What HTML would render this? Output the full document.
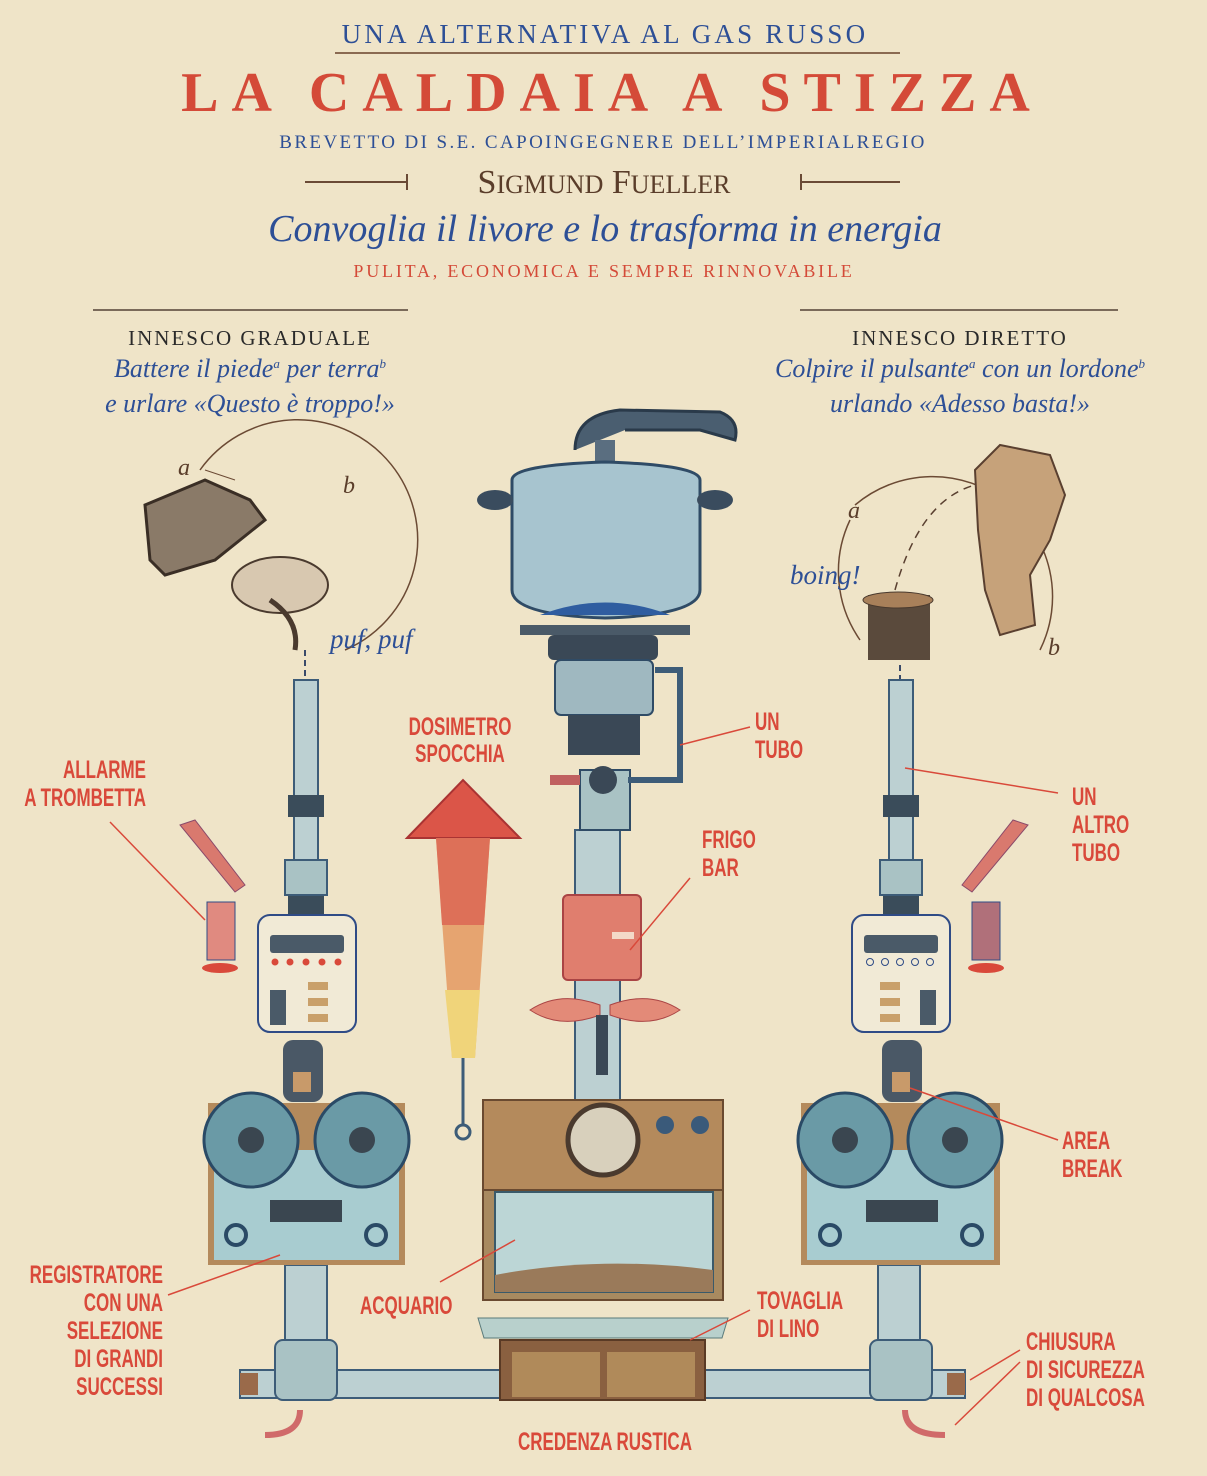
<!DOCTYPE html>
<html><head><meta charset="utf-8"><style>
html,body{margin:0;padding:0;background:#efe4c8;}
svg{display:block}
.lab{font-family:"Liberation Sans",sans-serif;font-weight:bold;fill:#d9493a;font-size:25px}
.ser{font-family:"Liberation Serif",serif}
</style></head><body>
<svg width="1207" height="1476" viewBox="0 0 1207 1476" xmlns="http://www.w3.org/2000/svg">
<rect width="1207" height="1476" fill="#efe4c8"/>
<g class="ser" text-anchor="middle">
<text x="605" y="43" font-size="27" fill="#2d4f96" letter-spacing="3.2">UNA ALTERNATIVA AL GAS RUSSO</text>
<line x1="335" y1="53" x2="900" y2="53" stroke="#8a6a52" stroke-width="2"/>
<text x="612" y="111" font-size="56" fill="#d44a38" letter-spacing="13" font-weight="bold">LA CALDAIA A STIZZA</text>
<text x="603" y="148" font-size="19" fill="#2d4f96" letter-spacing="2.4">BREVETTO DI S.E. CAPOINGEGNERE DELL’IMPERIALREGIO</text>
<text x="604" y="193" font-size="34" fill="#5a3d2a">S<tspan font-size="26">IGMUND</tspan> F<tspan font-size="26">UELLER</tspan></text>
<line x1="305" y1="182" x2="408" y2="182" stroke="#6a4a36" stroke-width="2"/><line x1="407" y1="174" x2="407" y2="190" stroke="#6a4a36" stroke-width="2"/>
<line x1="800" y1="182" x2="900" y2="182" stroke="#6a4a36" stroke-width="2"/><line x1="801" y1="174" x2="801" y2="190" stroke="#6a4a36" stroke-width="2"/>
<text x="605" y="241" font-size="38" fill="#2d4f96" font-style="italic">Convoglia il livore e lo trasforma in energia</text>
<text x="604" y="277" font-size="18" fill="#d44a38" letter-spacing="2.8">PULITA, ECONOMICA E SEMPRE RINNOVABILE</text>
<line x1="93" y1="310" x2="408" y2="310" stroke="#7a6a5a" stroke-width="2"/>
<line x1="800" y1="310" x2="1118" y2="310" stroke="#7a6a5a" stroke-width="2"/>
<text x="250" y="345" font-size="21" fill="#2a2a2a" letter-spacing="2">INNESCO GRADUALE</text>
<text x="250" y="377" font-size="26" fill="#2d4f96" font-style="italic">Battere il piede<tspan font-size="13" dy="-9">a</tspan><tspan dy="9"> per terra</tspan><tspan font-size="13" dy="-9">b</tspan></text>
<text x="250" y="412" font-size="26" fill="#2d4f96" font-style="italic">e urlare «Questo è troppo!»</text>
<text x="960" y="345" font-size="21" fill="#2a2a2a" letter-spacing="2">INNESCO DIRETTO</text>
<text x="960" y="377" font-size="26" fill="#2d4f96" font-style="italic">Colpire il pulsante<tspan font-size="13" dy="-9">a</tspan><tspan dy="9"> con un lordone</tspan><tspan font-size="13" dy="-9">b</tspan></text>
<text x="960" y="412" font-size="26" fill="#2d4f96" font-style="italic">urlando «Adesso basta!»</text>
</g>

<!-- left trigger -->
<path d="M200 470 A120 120 0 1 1 345 650" fill="none" stroke="#6b4a34" stroke-width="1.5"/>
<path d="M235 480 L205 470" stroke="#6b4a34" fill="none"/>
<text x="178" y="475" class="ser" font-style="italic" font-size="24" fill="#5a3d2a">a</text>
<text x="343" y="493" class="ser" font-style="italic" font-size="24" fill="#5a3d2a">b</text>
<path d="M145 505 L205 480 L250 500 L265 520 L215 560 L165 575 L150 560 Z" fill="#8a7a68" stroke="#3a2e25" stroke-width="3"/>
<ellipse cx="280" cy="585" rx="48" ry="28" fill="#d8c8b0" stroke="#4a3a2e" stroke-width="2"/>
<path d="M270 600 Q300 620 295 650" stroke="#4a3a2e" stroke-width="5" fill="none"/>
<text x="330" y="648" class="ser" font-style="italic" font-size="27" fill="#2d4f96">puf, puf</text>
<line x1="305" y1="650" x2="305" y2="705" stroke="#3a4a6a" stroke-width="2" stroke-dasharray="6,4"/>
<!-- right trigger -->
<path d="M855 505 A120 120 0 0 1 1040 650" fill="none" stroke="#6b4a34" stroke-width="1.5"/>
<path d="M850 520 A120 120 0 0 0 860 640" fill="none" stroke="#6b4a34" stroke-width="1.5"/>
<text x="848" y="518" class="ser" font-style="italic" font-size="24" fill="#5a3d2a">a</text>
<text x="1048" y="655" class="ser" font-style="italic" font-size="24" fill="#5a3d2a">b</text>
<text x="790" y="584" class="ser" font-style="italic" font-size="27" fill="#2d4f96">boing!</text>
<path d="M975 470 L1000 445 L1050 455 L1065 495 L1050 540 L1030 575 L1035 625 L1000 635 L985 590 L978 530 Z" fill="#c6a27a" stroke="#5a4030" stroke-width="2"/>
<path d="M895 590 Q920 500 975 485" stroke="#5a4030" fill="none" stroke-dasharray="8,6" stroke-width="1.5"/>
<rect x="868" y="595" width="62" height="65" fill="#5a4a3c"/>
<ellipse cx="898" cy="600" rx="35" ry="8" fill="#a8805a" stroke="#4a3a2e"/>
<line x1="900" y1="665" x2="900" y2="715" stroke="#3a4a6a" stroke-width="2" stroke-dasharray="6,4"/>

<!-- pipes -->
<g fill="#bcd0d2" stroke="#3d5c78" stroke-width="2">
<rect x="294" y="680" width="24" height="220"/>
<rect x="889" y="680" width="24" height="220"/>
<rect x="575" y="830" width="45" height="270"/>
<rect x="240" y="1370" width="725" height="28"/>
<rect x="285" y="1265" width="42" height="130"/>
<rect x="878" y="1265" width="42" height="130"/>
</g>
<g fill="#3a4c5a"><rect x="288" y="795" width="36" height="22"/><rect x="883" y="795" width="36" height="22"/>
<rect x="288" y="895" width="36" height="20"/><rect x="883" y="895" width="36" height="20"/></g>
<g fill="#a9c2c4" stroke="#3d5c78" stroke-width="2">
<rect x="285" y="860" width="42" height="35"/><rect x="880" y="860" width="42" height="35"/>
<rect x="275" y="1340" width="62" height="60" rx="8"/><rect x="870" y="1340" width="62" height="60" rx="8"/>
</g>
<path d="M300 1410 Q300 1435 265 1435" stroke="#d06a6a" stroke-width="6" fill="none"/>
<path d="M905 1410 Q905 1435 945 1435" stroke="#d06a6a" stroke-width="6" fill="none"/>
<rect x="240" y="1373" width="18" height="22" fill="#9a6a4a"/><rect x="947" y="1373" width="18" height="22" fill="#9a6a4a"/>

<!-- pot -->
<path d="M575 450 Q575 415 620 410 L720 412 Q740 420 735 440 L700 430 L625 430" fill="#4a5e70" stroke="#2a3a4a" stroke-width="3"/>
<rect x="595" y="440" width="20" height="30" fill="#5a6e80"/>
<path d="M512 480 Q512 465 605 462 Q700 465 700 480 L700 590 Q700 615 605 618 Q512 615 512 590 Z" fill="#a7c4cf" stroke="#2f4b66" stroke-width="3"/>
<ellipse cx="495" cy="500" rx="18" ry="10" fill="#3a4c5e"/><ellipse cx="715" cy="500" rx="18" ry="10" fill="#3a4c5e"/>
<path d="M540 615 Q605 590 670 615" fill="#2f5da0"/>
<rect x="520" y="625" width="170" height="10" fill="#4a5a68"/>
<rect x="548" y="635" width="110" height="25" fill="#3a4856" rx="6"/>
<rect x="555" y="660" width="98" height="55" fill="#9fb8c0" stroke="#2f4b66" stroke-width="2" rx="6"/>
<rect x="568" y="715" width="72" height="40" fill="#3a4856"/>
<rect x="580" y="770" width="50" height="60" fill="#a9c2c4" stroke="#2f4b66" stroke-width="2"/>
<circle cx="603" cy="780" r="14" fill="#3a4856"/>
<path d="M655 670 L680 670 L680 780 L628 780" stroke="#3d5c78" stroke-width="6" fill="none"/>
<rect x="550" y="775" width="30" height="10" fill="#c06060"/>
<!-- fridge + propeller -->
<rect x="563" y="895" width="78" height="85" rx="5" fill="#e07e6e" stroke="#a44" stroke-width="2"/>
<rect x="612" y="932" width="22" height="7" fill="#f3d9c8"/>
<path d="M530 1010 Q560 990 600 1005 L600 1015 Q560 1030 530 1010Z" fill="#e38a78" stroke="#a44"/>
<path d="M610 1005 Q650 990 680 1010 Q650 1030 610 1015Z" fill="#e38a78" stroke="#a44"/>
<rect x="596" y="1015" width="12" height="60" fill="#3a4856"/>
<!-- arrow gauge -->
<path d="M407 838 L463 780 L520 838 Z" fill="#db5548" stroke="#a33" stroke-width="2"/>
<path d="M436 838 L490 838 L475 1058 L452 1058 Z" fill="#e6a470"/>
<path d="M436 838 L490 838 L484 925 L442 925Z" fill="#dd7058"/>
<path d="M445 990 L480 990 L475 1058 L452 1058Z" fill="#f0d47a"/>
<line x1="463" y1="1058" x2="463" y2="1125" stroke="#3d5c78" stroke-width="3"/>
<circle cx="463" cy="1132" r="7" fill="none" stroke="#3d5c78" stroke-width="3"/>
<!-- cabinet -->
<rect x="483" y="1100" width="240" height="90" fill="#b48a5c" stroke="#6a4a30" stroke-width="2"/>
<circle cx="603" cy="1140" r="35" fill="#d8d0bc" stroke="#4a3a2e" stroke-width="5"/>
<circle cx="665" cy="1125" r="9" fill="#3a5a7a"/><circle cx="700" cy="1125" r="9" fill="#3a5a7a"/>
<rect x="483" y="1190" width="240" height="110" fill="#a88a60" stroke="#6a4a30" stroke-width="2"/>
<rect x="495" y="1192" width="218" height="100" fill="#bcd6d6" stroke="#3a5a6a" stroke-width="2"/>
<path d="M495 1292 L713 1292 L713 1270 Q600 1255 495 1275Z" fill="#9a7a5a"/>
<path d="M478 1318 L728 1318 L722 1338 L484 1338Z" fill="#b8d0cc" stroke="#5a7a7a"/>
<rect x="500" y="1340" width="205" height="60" fill="#8a6040" stroke="#5a3a25" stroke-width="2"/>
<rect x="512" y="1352" width="88" height="45" fill="#b08a5a"/><rect x="607" y="1352" width="88" height="45" fill="#b08a5a"/>

<!-- control boxes -->
<g>
<rect x="258" y="915" width="98" height="117" rx="12" fill="#f1ead6" stroke="#2f4b86" stroke-width="2"/>
<rect x="270" y="935" width="74" height="18" rx="3" fill="#4a5a68"/>
<rect x="852" y="915" width="98" height="117" rx="12" fill="#f1ead6" stroke="#2f4b86" stroke-width="2"/>
<rect x="864" y="935" width="74" height="18" rx="3" fill="#4a5a68"/>
<g fill="#d9493a"><circle cx="275" cy="962" r="3.5"/><circle cx="290" cy="962" r="3.5"/><circle cx="306" cy="962" r="3.5"/><circle cx="322" cy="962" r="3.5"/><circle cx="338" cy="962" r="3.5"/></g>
<g fill="none" stroke="#2f4b86"><circle cx="870" cy="962" r="3.5"/><circle cx="885" cy="962" r="3.5"/><circle cx="900" cy="962" r="3.5"/><circle cx="915" cy="962" r="3.5"/><circle cx="930" cy="962" r="3.5"/></g>
<rect x="270" y="990" width="16" height="35" fill="#4a5a68"/><rect x="920" y="990" width="16" height="35" fill="#4a5a68"/>
<g fill="#c9a06a"><rect x="308" y="982" width="20" height="8"/><rect x="308" y="998" width="20" height="8"/><rect x="308" y="1014" width="20" height="8"/>
<rect x="880" y="982" width="20" height="8"/><rect x="880" y="998" width="20" height="8"/><rect x="880" y="1014" width="20" height="8"/></g>
</g>
<!-- horns -->
<rect x="207" y="902" width="28" height="58" fill="#e08a80" stroke="#2f4b86"/>
<path d="M180 825 L195 820 L245 885 L235 892 Z" fill="#d9796e" stroke="#8a4a6a"/>
<ellipse cx="220" cy="968" rx="18" ry="5" fill="#d9493a"/>
<rect x="972" y="902" width="28" height="58" fill="#b0707a" stroke="#2f4b86"/>
<path d="M1028 825 L1013 820 L962 885 L972 892 Z" fill="#d9796e" stroke="#8a4a6a"/>
<ellipse cx="986" cy="968" rx="18" ry="5" fill="#d9493a"/>
<!-- coffee machines -->
<rect x="283" y="1040" width="40" height="62" rx="10" fill="#4a5866"/><rect x="293" y="1072" width="18" height="20" fill="#c89a6a"/>
<rect x="882" y="1040" width="40" height="62" rx="10" fill="#4a5866"/><rect x="892" y="1072" width="18" height="20" fill="#c89a6a"/>
<!-- recorders -->
<g>
<rect x="208" y="1103" width="197" height="162" fill="#b48a5c"/>
<rect x="214" y="1150" width="185" height="110" fill="#a8ccd0"/>
<rect x="801" y="1103" width="199" height="162" fill="#b48a5c"/>
<rect x="807" y="1150" width="187" height="110" fill="#a8ccd0"/>
<g fill="#6a9aa6" stroke="#2a4a66" stroke-width="3">
<circle cx="251" cy="1140" r="47"/><circle cx="362" cy="1140" r="47"/>
<circle cx="845" cy="1140" r="47"/><circle cx="955" cy="1140" r="47"/>
</g>
<g fill="#3a4650"><circle cx="251" cy="1140" r="13"/><circle cx="362" cy="1140" r="13"/><circle cx="845" cy="1140" r="13"/><circle cx="955" cy="1140" r="13"/></g>
<rect x="270" y="1200" width="72" height="22" fill="#3a4650"/><rect x="866" y="1200" width="72" height="22" fill="#3a4650"/>
<g fill="none" stroke="#2a4a66" stroke-width="4"><circle cx="236" cy="1235" r="10"/><circle cx="376" cy="1235" r="10"/><circle cx="830" cy="1235" r="10"/><circle cx="972" cy="1235" r="10"/></g>
</g>

<!-- labels (condensed via scaleX) -->
<g class="lab">
<g text-anchor="middle" transform="translate(460,0) scale(0.68,1)"><text x="0" y="735">DOSIMETRO</text><text x="0" y="762">SPOCCHIA</text></g>
<g text-anchor="end" transform="translate(146,0) scale(0.68,1)"><text x="0" y="778">ALLARME</text><text x="0" y="806">A TROMBETTA</text></g>
<g transform="translate(755,0) scale(0.68,1)"><text x="0" y="730">UN</text><text x="0" y="758">TUBO</text></g>
<g transform="translate(702,0) scale(0.68,1)"><text x="0" y="848">FRIGO</text><text x="0" y="876">BAR</text></g>
<g transform="translate(1072,0) scale(0.68,1)"><text x="0" y="805">UN</text><text x="0" y="833">ALTRO</text><text x="0" y="861">TUBO</text></g>
<g transform="translate(1062,0) scale(0.68,1)"><text x="0" y="1149">AREA</text><text x="0" y="1177">BREAK</text></g>
<g text-anchor="end" transform="translate(163,0) scale(0.68,1)"><text x="0" y="1283">REGISTRATORE</text><text x="0" y="1311">CON UNA</text><text x="0" y="1339">SELEZIONE</text><text x="0" y="1367">DI GRANDI</text><text x="0" y="1395">SUCCESSI</text></g>
<g transform="translate(360,0) scale(0.68,1)"><text x="0" y="1314">ACQUARIO</text></g>
<g transform="translate(757,0) scale(0.68,1)"><text x="0" y="1309">TOVAGLIA</text><text x="0" y="1337">DI LINO</text></g>
<g transform="translate(1026,0) scale(0.68,1)"><text x="0" y="1350">CHIUSURA</text><text x="0" y="1378">DI SICUREZZA</text><text x="0" y="1406">DI QUALCOSA</text></g>
<g text-anchor="middle" transform="translate(605,0) scale(0.68,1)"><text x="0" y="1450">CREDENZA RUSTICA</text></g>
</g>
<g stroke="#d9493a" stroke-width="1.5" fill="none">
<line x1="110" y1="822" x2="205" y2="920"/>
<line x1="750" y1="727" x2="680" y2="745"/>
<line x1="690" y1="878" x2="630" y2="950"/>
<line x1="1058" y1="793" x2="905" y2="768"/>
<line x1="1058" y1="1140" x2="910" y2="1088"/>
<line x1="168" y1="1295" x2="280" y2="1255"/>
<line x1="440" y1="1282" x2="515" y2="1240"/>
<line x1="750" y1="1310" x2="690" y2="1340"/>
<line x1="1020" y1="1350" x2="970" y2="1380"/>
<line x1="1020" y1="1362" x2="955" y2="1425"/>
</g>
</svg>
</body></html>
